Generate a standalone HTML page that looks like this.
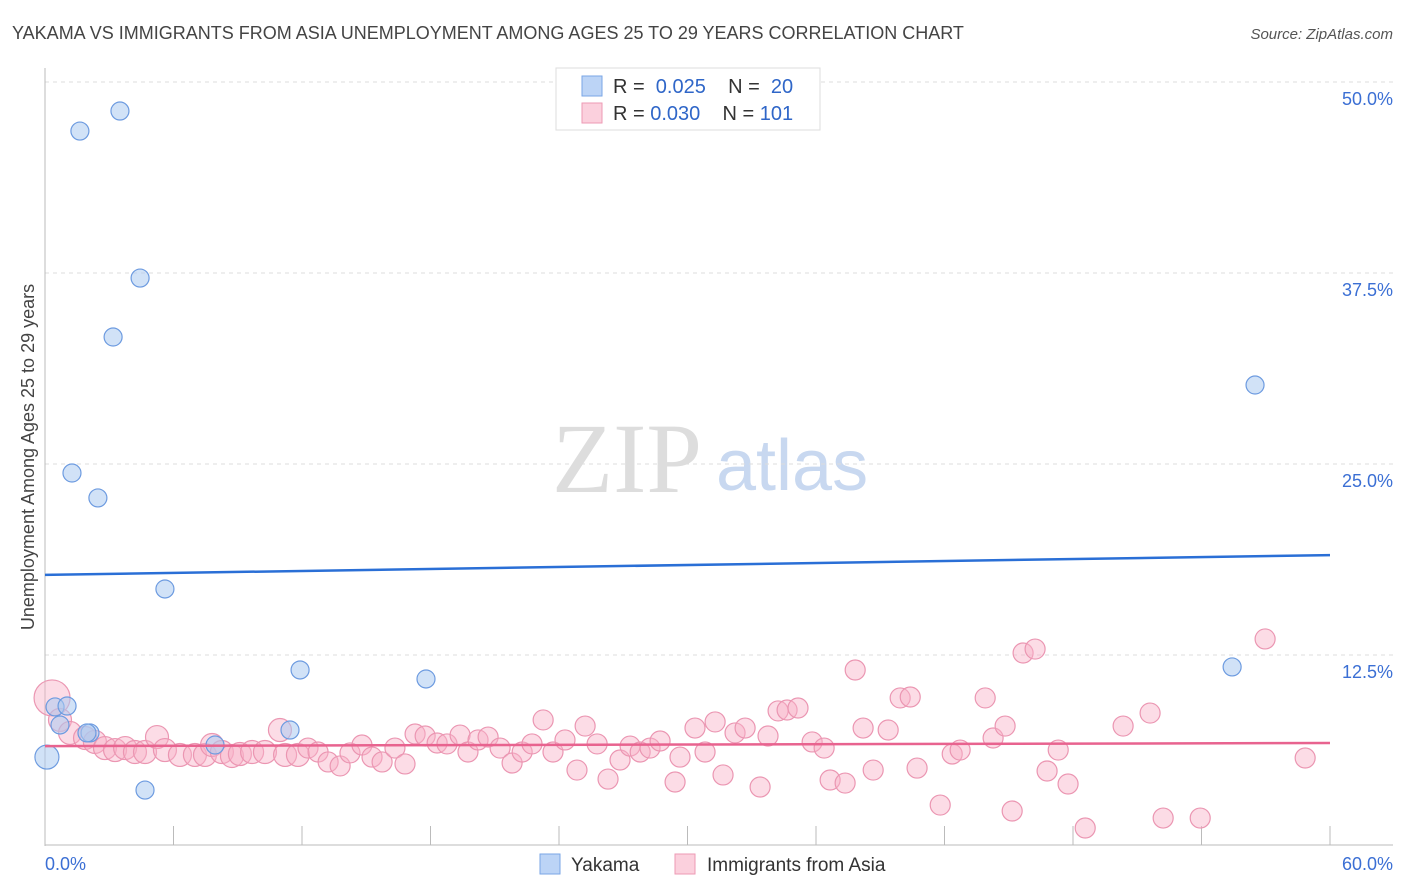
<!DOCTYPE html>
<html><head><meta charset="utf-8"><style>
body{margin:0;background:#fff;font-family:"Liberation Sans",sans-serif;}
svg{display:block}
</style></head><body>
<svg id="chart" width="1406" height="892" xmlns="http://www.w3.org/2000/svg">
<text x="12" y="39" font-size="18" fill="#444">YAKAMA VS IMMIGRANTS FROM ASIA UNEMPLOYMENT AMONG AGES 25 TO 29 YEARS CORRELATION CHART</text>
<text x="1393" y="39" font-size="15" fill="#555" text-anchor="end" font-style="italic">Source: ZipAtlas.com</text>
<g>
<text x="552" y="492" font-size="100" font-family="Liberation Serif,serif" fill="#ddd">ZIP</text>
<text x="716" y="490" font-size="72" fill="#c8d8f0">atlas</text>
</g>
<g id="grid"></g>
<g id="axes"></g>
<g id="pink"></g>
<g id="blue"></g>
<g id="trends"></g>
<text transform="translate(34,457) rotate(-90)" font-size="18" fill="#444" text-anchor="middle">Unemployment Among Ages 25 to 29 years</text>
<g>
<rect x="556" y="68" width="264" height="62" fill="#fff" stroke="#ddd"/>
<rect x="582" y="76" width="20" height="20" fill="#bcd4f6" stroke="#7aa6e6"/>
<rect x="582" y="103" width="20" height="20" fill="#fbd0dd" stroke="#ee9ab4"/>
<text x="613" y="93" font-size="20" fill="#333" xml:space="preserve">R =  <tspan fill="#2f66c8">0.025</tspan>    N =  <tspan fill="#2f66c8">20</tspan></text>
<text x="613" y="120" font-size="20" fill="#333" xml:space="preserve">R = <tspan fill="#2f66c8">0.030</tspan>    N = <tspan fill="#2f66c8">101</tspan></text>
</g>
<g>
<rect x="540" y="854" width="20" height="20" fill="#bcd4f6" stroke="#7aa6e6"/>
<text x="571" y="871" font-size="19" fill="#333">Yakama</text>
<rect x="675" y="854" width="20" height="20" fill="#fbd0dd" stroke="#ee9ab4"/>
<text x="707" y="871" font-size="19" fill="#333">Immigrants from Asia</text>
</g>
</svg>
<script>
const pinkX=[.33,.70,1.17,1.87,2.33,2.80,3.27,3.74,4.20,4.67,5.23,5.60,6.30,7.00,7.47,7.80,8.26,8.73,9.10,9.67,10.27,10.97,11.21,11.81,12.28,12.75,13.22,13.78,14.24,14.80,15.27,15.74,16.34,16.81,17.28,17.75,18.31,18.77,19.38,19.75,20.22,20.69,21.25,21.81,22.28,22.74,23.26,23.72,24.28,24.84,25.22,25.78,26.29,26.85,27.32,27.79,28.25,28.72,29.42,29.65,30.35,30.82,31.29,31.66,32.22,32.69,33.39,33.76,34.23,34.65,35.16,35.82,36.38,36.66,37.36,37.83,38.20,38.67,39.37,39.93,40.40,40.72,41.80,42.36,42.73,43.90,44.27,44.83,45.16,45.67,46.23,46.79,47.31,47.77,48.57,50.34,51.60,52.21,53.94,56.97,58.84];
const pinkY=[9.69,8.25,7.40,7.07,6.81,6.41,6.28,6.41,6.15,6.15,7.13,6.28,5.96,5.96,5.96,6.61,6.15,5.89,6.02,6.15,6.15,7.59,5.96,5.96,6.41,6.15,5.50,5.24,6.09,6.61,5.82,5.50,6.41,5.37,7.33,7.20,6.74,6.68,7.26,6.15,6.94,7.13,6.41,5.43,6.15,6.68,8.25,6.15,6.94,4.97,7.85,6.68,4.38,5.63,6.54,6.15,6.41,6.87,4.19,5.82,7.72,6.15,8.12,4.65,7.40,7.72,3.86,7.20,8.84,8.90,9.03,6.81,6.41,4.32,4.12,11.52,7.72,4.97,7.59,9.69,9.75,5.10,2.68,6.02,6.28,9.69,7.07,7.85,2.29,12.63,12.89,4.91,6.28,4.06,1.18,7.85,8.70,1.83,1.83,13.55,5.76];
const blueX=[.09,.47,1.03,.70,2.10,1.96,1.63,3.50,4.44,3.18,1.26,2.47,5.60,4.67,7.94,11.44,11.91,17.79,56.50,55.43];
const blueY=[5.82,9.10,9.16,7.92,7.40,7.40,46.79,48.10,37.17,33.31,24.41,22.78,16.82,3.66,6.61,7.59,11.52,10.93,30.17,11.72];
const yTicks=[12.5,25,37.5,50];
const yTickLabels=["12.5%","25.0%","37.5%","50.0%"];
const xTicks=[6,12,18,24,30,36,42,48,54,60];
const blueTrend=[17.74,19.04];
const pinkTrend=[6.54,6.74];
const NS="http://www.w3.org/2000/svg";
function sx(v){return 45+v/60*1285;}
function sy(v){return 846-v*15.28;}
function mk(tag,attrs,parent){const e=document.createElementNS(NS,tag);for(const k in attrs)e.setAttribute(k,attrs[k]);parent.appendChild(e);return e;}
const grid=document.getElementById('grid'),axes=document.getElementById('axes');
yTicks.forEach((t,i)=>{
  const l=mk('line',{x1:45,x2:1393,y1:sy(t),y2:sy(t),stroke:'#ddd','stroke-dasharray':'4,4'},grid);
  
  
  const tx=mk('text',{x:1393,y:sy(t)+23,'font-size':18,fill:'#3b6fd4','text-anchor':'end'},grid);
  tx.textContent=yTickLabels[i];
  
  
});
const la=mk('line',{x1:45,x2:45,y1:68,y2:846,stroke:'#bbb'},axes);


const lb=mk('line',{x1:45,x2:1393,y1:845,y2:845,stroke:'#bbb'},axes);


xTicks.forEach(t=>{
  const l=mk('line',{x1:sx(t),x2:sx(t),y1:826,y2:845,stroke:'#bbb'},axes);
  
  
});
const x0=mk('text',{x:45,y:870,'font-size':18,fill:'#3b6fd4'},axes);x0.textContent='0.0%';


const x1=mk('text',{x:1393,y:870,'font-size':18,fill:'#3b6fd4','text-anchor':'end'},axes);x1.textContent='60.0%';


const pg=document.getElementById('pink');
pinkX.forEach((x,i)=>{
  const c=mk('circle',{cx:sx(x),cy:sy(pinkY[i]),r:i==0?18:(x<12?11.5:10),fill:'rgba(248,178,200,0.45)',stroke:'#eb96b2','stroke-width':1.2},pg);
  
  
});
const bg=document.getElementById('blue');
blueX.forEach((x,i)=>{
  const c=mk('circle',{cx:sx(x),cy:sy(blueY[i]),r:i==0?12:9,fill:'rgba(172,202,240,0.55)',stroke:'#6d9be0','stroke-width':1.2},bg);
  
  
});
const tg=document.getElementById('trends');
const tb=mk('line',{x1:sx(0),x2:sx(60),y1:sy(blueTrend[0]),y2:sy(blueTrend[1]),stroke:'#2a6fd6','stroke-width':2.5},tg);


const tp=mk('line',{x1:sx(0),x2:sx(60),y1:sy(pinkTrend[0]),y2:sy(pinkTrend[1]),stroke:'#e8638f','stroke-width':2.5},tg);


</script>
</body></html>
